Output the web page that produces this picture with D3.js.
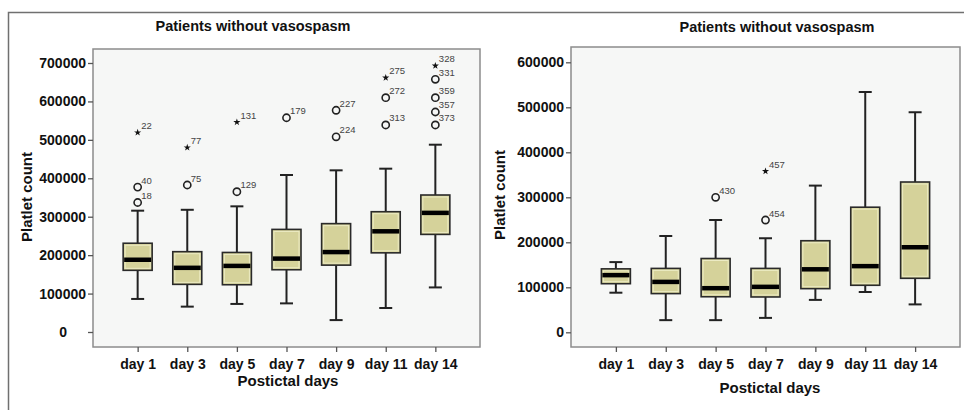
<!DOCTYPE html>
<html lang="en">
<head>
<meta charset="UTF-8">
<title>Platlet count by postictal day</title>
<script src="https://cdn.jsdelivr.net/npm/d3@7"></script>
<style>
    body { margin: 0; background: #fff; }
    text { font-family: Arial, "Liberation Sans", sans-serif; fill: #111; }
    .tick text { font-size: 14px; font-weight: bold; }
    .tick line { stroke: #555; stroke-width: 1.3; }
    .outlier-label { font-size: 9.5px; fill: #444; font-weight: normal; }
</style>
</head>
<body>
<svg width="964" height="410"></svg>
<script>
    var days = ["day 1", "day 3", "day 5", "day 7", "day 9", "day 11", "day 14"];

    var leftTicks = [0, 100000, 200000, 300000, 400000, 500000, 600000, 700000];
    var rightTicks = [0, 100000, 200000, 300000, 400000, 500000, 600000];

    // left panel: whisker low, Q1, median, Q3, whisker high
    var leftLow = [86000, 66000, 73000, 74500, 31000, 62500, 116000];
    var leftQ1 = [160500, 124000, 123000, 162000, 174000, 206000, 254000];
    var leftMedian = [188000, 167000, 172000, 191000, 208000, 262000, 310000];
    var leftQ3 = [231000, 209000, 207000, 267000, 282000, 313000, 356500];
    var leftHigh = [315700, 318000, 327000, 408500, 420700, 425000, 487400];
    // day, value, case id, "o" = outlier / "*" = extreme
    var leftOutliers = [
        ["day 1", 337000, "18", "o"], ["day 1", 377000, "40", "o"], ["day 1", 519000, "22", "*"],
        ["day 3", 382500, "75", "o"], ["day 3", 480000, "77", "*"],
        ["day 5", 365000, "129", "o"], ["day 5", 546000, "131", "*"],
        ["day 7", 557500, "179", "o"],
        ["day 9", 508000, "224", "o"], ["day 9", 577000, "227", "o"],
        ["day 11", 538700, "313", "o"], ["day 11", 609700, "272", "o"], ["day 11", 661700, "275", "*"],
        ["day 14", 538700, "373", "o"], ["day 14", 572500, "357", "o"], ["day 14", 609700, "359", "o"],
        ["day 14", 657600, "331", "o"], ["day 14", 693000, "328", "*"]
    ];

    // right panel
    var rightLow = [88000, 27000, 27000, 32000, 72000, 89500, 62000];
    var rightQ1 = [108000, 86000, 79000, 78500, 97000, 104500, 120000];
    var rightMedian = [127000, 112000, 98000, 101000, 140000, 147000, 189000];
    var rightQ3 = [141000, 142000, 164000, 142000, 203500, 278000, 334000];
    var rightHigh = [156000, 214000, 249500, 209000, 326000, 534000, 489000];
    var rightOutliers = [
        ["day 5", 300000, "430", "o"],
        ["day 7", 249500, "454", "o"], ["day 7", 358000, "457", "*"]
    ];

    var svg = d3.select("svg");

    // outer frame (left + top edges)
    svg.append("path")
        .attr("d", "M8.5,410 L8.5,12.5 L964,12.5")
        .attr("fill", "none")
        .attr("stroke", "#707070")
        .attr("stroke-width", 1.5);

    function drawPanel(p) {
        var x = d3.scalePoint().domain(days).range([p.left, p.right]).padding(0.9);
        var y = d3.scaleLinear().domain([0, p.ticks[p.ticks.length - 1]]).range([p.zeroY, p.topY]);

        svg.append("rect")
            .attr("x", p.left).attr("y", p.top)
            .attr("width", p.right - p.left).attr("height", p.bottom - p.top)
            .attr("fill", "#f6f7f6")
            .attr("stroke", "#8c8c8c")
            .attr("stroke-width", 1.5);

        var yAxis = svg.append("g")
            .attr("transform", "translate(" + p.left + ",0)")
            .call(d3.axisLeft(y).tickValues(p.ticks).tickSize(5).tickPadding(2).tickFormat(d3.format("d")));
        yAxis.select(".domain").remove();
        if (p.shiftZero) {
            yAxis.selectAll(".tick text").filter(function(d) { return d === 0; })
                .attr("dx", -19);
        }

        var xAxis = svg.append("g")
            .attr("transform", "translate(0," + p.bottom + ")")
            .call(d3.axisBottom(x).tickSize(5).tickPadding(4));
        xAxis.select(".domain").remove();
        xAxis.selectAll(".tick text").attr("y", 12).attr("dy", "0.71em");

        var boxW = 29, capW = 13;
        var g = svg.append("g");
        days.forEach(function(day, i) {
            var cx = x(day);
            // whiskers
            g.append("line")
                .attr("x1", cx).attr("x2", cx)
                .attr("y1", y(p.low[i])).attr("y2", y(p.high[i]))
                .attr("stroke", "#222").attr("stroke-width", 2);
            [p.low[i], p.high[i]].forEach(function(v) {
                g.append("line")
                    .attr("x1", cx - capW / 2).attr("x2", cx + capW / 2)
                    .attr("y1", y(v)).attr("y2", y(v))
                    .attr("stroke", "#222").attr("stroke-width", 2);
            });
            // box
            g.append("rect")
                .attr("x", cx - boxW / 2).attr("y", y(p.q3[i]))
                .attr("width", boxW).attr("height", y(p.q1[i]) - y(p.q3[i]))
                .attr("fill", "#d5d29a")
                .attr("stroke", "#2a2a2a").attr("stroke-width", 1.6);
            g.append("rect")
                .attr("x", cx - boxW / 2 + 2).attr("y", y(p.q3[i]) + 2)
                .attr("width", boxW - 4).attr("height", Math.max(0, y(p.q1[i]) - y(p.q3[i]) - 4))
                .attr("fill", "none")
                .attr("stroke", "#ecebc4").attr("stroke-width", 1);
            // median
            g.append("line")
                .attr("x1", cx - boxW / 2 + 1).attr("x2", cx + boxW / 2 - 1)
                .attr("y1", y(p.median[i])).attr("y2", y(p.median[i]))
                .attr("stroke", "#000").attr("stroke-width", 4.5);
        });

        p.outliers.forEach(function(o) {
            var cx = x(o[0]), cy = y(o[1]);
            if (o[3] === "*") {
                g.append("path")
                    .attr("transform", "translate(" + cx + "," + cy + ")")
                    .attr("d", d3.symbol(d3.symbolStar, 16)())
                    .attr("fill", "#111");
            } else {
                g.append("circle")
                    .attr("cx", cx).attr("cy", cy).attr("r", 3.6)
                    .attr("fill", "none")
                    .attr("stroke", "#222").attr("stroke-width", 1.6);
            }
            g.append("text")
                .attr("class", "outlier-label")
                .attr("x", cx + 3.5).attr("y", cy - 3.5)
                .text(o[2]);
        });

        svg.append("text")
            .attr("x", p.titleX).attr("y", p.titleY)
            .attr("text-anchor", "middle")
            .attr("font-size", "14.5px").attr("font-weight", "bold")
            .text("Patients without vasospasm");

        svg.append("text")
            .attr("transform", "translate(" + p.yTitleX + "," + p.yTitleY + ") rotate(-90)")
            .attr("text-anchor", "middle")
            .attr("font-size", "15px").attr("font-weight", "bold")
            .text("Platlet count");

        svg.append("text")
            .attr("x", p.xTitleX).attr("y", p.xTitleY)
            .attr("text-anchor", "middle")
            .attr("font-size", "15px").attr("font-weight", "bold")
            .text("Postictal days");
    }

    drawPanel({
        left: 93, right: 480, top: 49, bottom: 347, zeroY: 332, topY: 63,
        ticks: leftTicks, shiftZero: true,
        low: leftLow, q1: leftQ1, median: leftMedian, q3: leftQ3, high: leftHigh,
        outliers: leftOutliers,
        titleX: 253, titleY: 31, yTitleX: 32, yTitleY: 197, xTitleX: 288, xTitleY: 386
    });

    drawPanel({
        left: 571, right: 960, top: 47, bottom: 347, zeroY: 332.3, topY: 62.3,
        ticks: rightTicks, shiftZero: false,
        low: rightLow, q1: rightQ1, median: rightMedian, q3: rightQ3, high: rightHigh,
        outliers: rightOutliers,
        titleX: 777, titleY: 32, yTitleX: 505, yTitleY: 195, xTitleX: 770, xTitleY: 393
    });
</script>
</body>
</html>
